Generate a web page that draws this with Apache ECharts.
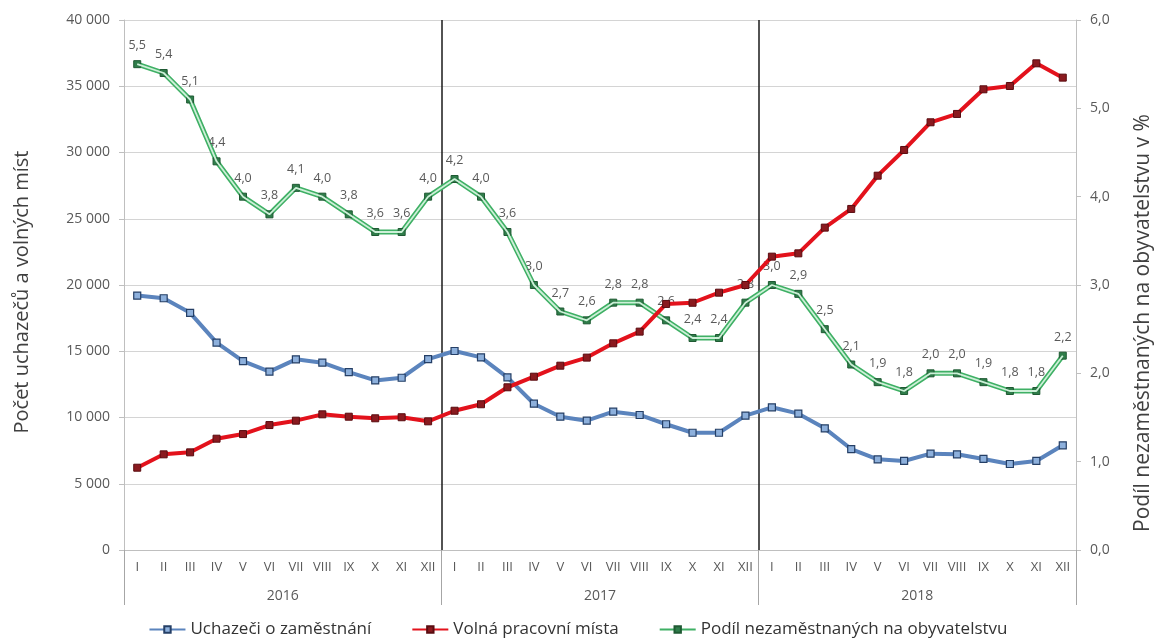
<!DOCTYPE html>
<html>
<head>
<meta charset="utf-8">
<script src="https://cdn.jsdelivr.net/npm/echarts@6/dist/echarts.min.js"></script>
<style>html,body{margin:0;padding:0;background:#fff}#c{width:1156px;height:643px}</style>
</head>
<body>
<div id="c"></div>
<script>
var months = ['I','II','III','IV','V','VI','VII','VIII','IX','X','XI','XII'];
var years = ['2016','2017','2018'];
var categories = [];
years.forEach(function(y){ months.forEach(function(m){ categories.push(m); }); });

var uchazeci = [
  19200, 19000, 17900, 15650, 14260, 13460, 14390, 14140, 13430, 12800, 13000, 14400,
  15020, 14540, 13030, 11040, 10060, 9760, 10440, 10190, 9490, 8850, 8850, 10140,
  10770, 10290, 9180, 7620, 6840, 6720, 7270, 7220, 6870, 6490, 6720, 7900
];
var volnaMista = [
  6210, 7220, 7370, 8400, 8750, 9430, 9760, 10240, 10060, 9940, 10020, 9710,
  10510, 11000, 12280, 13080, 13910, 14520, 15600, 16480, 18570, 18660, 19420, 20000,
  22140, 22390, 24330, 25740, 28250, 30190, 32280, 32910, 34770, 35020, 36730, 35650
];
var podil = [
  5.5, 5.4, 5.1, 4.4, 4.0, 3.8, 4.1, 4.0, 3.8, 3.6, 3.6, 4.0,
  4.2, 4.0, 3.6, 3.0, 2.7, 2.6, 2.8, 2.8, 2.6, 2.4, 2.4, 2.8,
  3.0, 2.9, 2.5, 2.1, 1.9, 1.8, 2.0, 2.0, 1.9, 1.8, 1.8, 2.2
];

var leftAxisName = 'Počet uchazečů a volných míst';
var rightAxisName = 'Podíl nezaměstnaných na obyvatelstvu v %';

var FONT = 'Open Sans';
function thousands(v){ return String(v).replace(/\B(?=(\d{3})+(?!\d))/g, ' '); }
function dec(v){ return Number(v).toFixed(1).replace('.', ','); }

var chart = echarts.init(document.getElementById('c'));
chart.setOption({
  animation: false,
  textStyle: { fontFamily: FONT },
  grid: { left: 124, right: 80, top: 20, bottom: 93, containLabel: false },
  graphic: [
    {
      type: 'text', x: 22, y: 292, rotation: Math.PI / 2,
      style: { text: leftAxisName, fontSize: 20, fontFamily: FONT, fill: '#404040', align: 'center', verticalAlign: 'middle' }
    },
    {
      type: 'text', x: 1143, y: 323, rotation: Math.PI / 2,
      style: { text: rightAxisName, fontSize: 21, fontFamily: FONT, fill: '#404040', align: 'center', verticalAlign: 'middle' }
    }
  ],
  legend: {
    bottom: 0,
    left: 'center',
    itemWidth: 36,
    itemHeight: 8,
    itemGap: 40,
    data: ['Uchazeči o zaměstnání', 'Volná pracovní místa', 'Podíl nezaměstnaných na obyvatelstvu'],
    textStyle: { fontFamily: FONT, fontSize: 17, color: '#333' }
  },
  xAxis: [
    {
      type: 'category',
      data: categories,
      boundaryGap: true,
      axisLine: { show: true, lineStyle: { color: '#bfbfbf', width: 1 } },
      axisTick: { show: false },
      axisLabel: { margin: 11, fontSize: 13, color: '#595959', interval: 0, fontFamily: FONT },
      splitLine: { show: false }
    },
    {
      type: 'category',
      data: years,
      position: 'bottom',
      boundaryGap: true,
      axisLine: { show: false },
      axisTick: { show: true, length: 55, lineStyle: { color: '#a6a6a6', width: 1 } },
      axisLabel: { margin: 39, fontSize: 14, color: '#595959', fontFamily: FONT },
      splitLine: { show: true, showMinLine: false, showMaxLine: false, lineStyle: { color: '#1a1a1a', width: 1.5 } }
    }
  ],
  yAxis: [
    {
      type: 'value',
      min: 0, max: 40000, interval: 5000,
      axisLine: { show: true, lineStyle: { color: '#bfbfbf' } },
      axisTick: { show: true, length: 5, lineStyle: { color: '#bfbfbf' } },
      axisLabel: { margin: 14, fontSize: 14, color: '#595959', formatter: thousands, fontFamily: FONT },
      splitLine: { show: true, lineStyle: { color: '#d4d4d4', width: 1 } }
    },
    {
      type: 'value',
      min: 0, max: 6, interval: 1,
      position: 'right',
      axisLine: { show: true, lineStyle: { color: '#bfbfbf' } },
      axisTick: { show: true, length: 5, lineStyle: { color: '#bfbfbf' } },
      axisLabel: { margin: 14, fontSize: 14, color: '#595959', formatter: dec, fontFamily: FONT },
      splitLine: { show: false }
    }
  ],
  series: [
    {
      name: 'Podíl nezaměstnaných na obyvatelstvu',
      type: 'line',
      xAxisIndex: 0, yAxisIndex: 1,
      data: podil,
      symbol: 'rect', symbolSize: 7,
      lineStyle: { color: '#3fb065', width: 5 },
      itemStyle: { color: '#2f7d4a', borderColor: '#1f5a33', borderWidth: 1 },
      label: { show: true, position: 'top', distance: 8, fontSize: 12.5, color: '#595959', formatter: function(p){ return dec(p.value); } },
      z: 2
    },
    {
      name: 'podil-inner',
      type: 'line',
      xAxisIndex: 0, yAxisIndex: 1,
      data: podil,
      symbol: 'none',
      lineStyle: { color: '#cdf0d8', width: 1.8 },
      silent: true,
      z: 3
    },
    {
      name: 'Uchazeči o zaměstnání',
      type: 'line',
      xAxisIndex: 0, yAxisIndex: 0,
      data: uchazeci,
      symbol: 'rect', symbolSize: 7,
      lineStyle: { color: '#5b84bd', width: 4 },
      itemStyle: { color: '#8db0dc', borderColor: '#253f66', borderWidth: 1.2 },
      z: 4
    },
    {
      name: 'Volná pracovní místa',
      type: 'line',
      xAxisIndex: 0, yAxisIndex: 0,
      data: volnaMista,
      symbol: 'rect', symbolSize: 7,
      lineStyle: { color: '#e3121c', width: 4 },
      itemStyle: { color: '#8a1a1f', borderColor: '#5a0c10', borderWidth: 1 },
      z: 5
    }
  ]
});
</script>
</body>
</html>
